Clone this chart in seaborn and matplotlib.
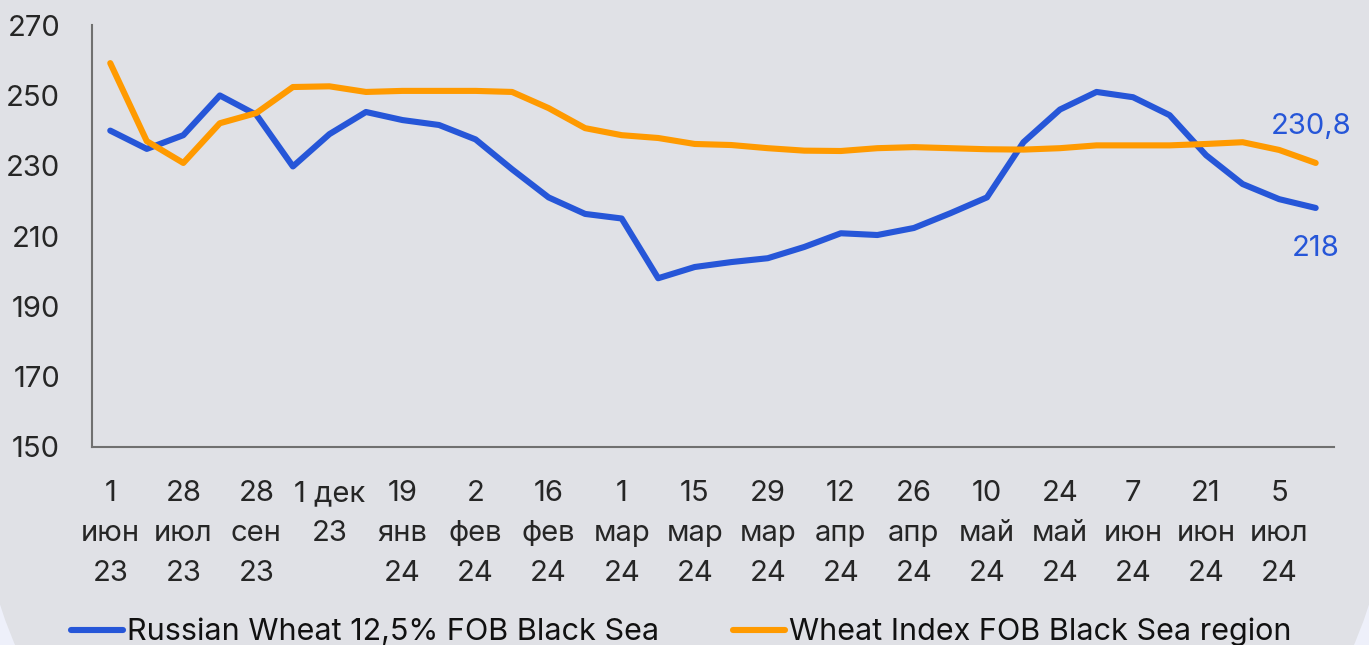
import matplotlib.pyplot as plt
import numpy as np
import pandas as pd
import seaborn as sns
from matplotlib.patches import FancyBboxPatch

# weekly observations, a tick label on every second one
date_labels = [
    "1\nиюн\n23", "28\nиюл\n23", "28\nсен\n23", "1 дек\n23", "19\nянв\n24",
    "2\nфев\n24", "16\nфев\n24", "1\nмар\n24", "15\nмар\n24", "29\nмар\n24",
    "12\nапр\n24", "26\nапр\n24", "10\nмай\n24", "24\nмай\n24", "7\nиюн\n24",
    "21\nиюн\n24", "5\nиюл\n24",
]
russian_wheat = [
    240.0, 234.8, 238.7, 250.0, 244.5, 229.8, 239.0, 245.3, 243.0, 241.6,
    237.5, 229.0, 221.0, 216.3, 215.0, 198.0, 201.2, 202.6, 203.7, 206.9,
    210.8, 210.3, 212.3, 216.5, 221.0, 236.7, 246.0, 251.0, 249.5, 244.4,
    233.0, 224.8, 220.5, 218.0,
]
wheat_index = [
    259.2, 237.0, 230.8, 242.1, 245.0, 252.4, 252.6, 251.0, 251.3, 251.3,
    251.3, 251.0, 246.4, 240.7, 238.7, 237.9, 236.2, 235.9, 235.0, 234.3,
    234.2, 235.0, 235.3, 235.0, 234.7, 234.6, 235.0, 235.8, 235.8, 235.8,
    236.2, 236.7, 234.5, 230.8,
]
series_names = ["Russian Wheat 12,5% FOB Black Sea", "Wheat Index FOB Black Sea region"]
colors = ["#2656d8", "#ff9a00"]

n = len(russian_wheat)
df = pd.DataFrame({
    "week": list(range(n)) * 2,
    "price": russian_wheat + wheat_index,
    "series": [series_names[0]] * n + [series_names[1]] * n,
})

sns.set_style("white")
plt.rcParams["font.family"] = ["Inter", "DejaVu Sans"]
plt.rcParams["text.color"] = "#111111"

bg = "#e0e1e6"
fig = plt.figure(figsize=(13.69, 6.45), dpi=100, facecolor="#eef0fa")
# rounded grey card behind the chart
fig.patches.append(FancyBboxPatch(
    (-0.30, -2.45), 14.29, 12.0, boxstyle="round,pad=0,rounding_size=5.0",
    transform=fig.dpi_scale_trans, facecolor=bg, edgecolor="none", zorder=-5))

ax = fig.add_axes([0.0672, 0.307, 0.9072, 0.654])
ax.set_facecolor("none")

sns.lineplot(data=df, x="week", y="price", hue="series", palette=colors,
             linewidth=4.4, ax=ax, legend=False)
for ln in ax.get_lines():
    ln.set_solid_capstyle("round")
    ln.set_solid_joinstyle("round")

ax.set_xlim(-0.5, n - 0.5)
ax.set_ylim(150, 270)
ax.set_yticks(np.arange(150, 271, 20))
ax.set_xticks(np.arange(0, n, 2))
ax.set_xticklabels(date_labels, linespacing=1.6)
ax.set_xticks(np.arange(-0.5, n, 1), minor=True)
ax.set_xlabel("")
ax.set_ylabel("")

ax.tick_params(axis="x", which="major", length=0, pad=24, labelsize=21)
ax.tick_params(axis="x", which="minor", length=7.2, width=1.2, color="#707070", direction="out")
ax.tick_params(axis="y", length=0, pad=23, labelsize=21)

for side in ["top", "right"]:
    ax.spines[side].set_visible(False)
for side in ["left", "bottom"]:
    ax.spines[side].set_color("#707070")
    ax.spines[side].set_linewidth(1.5)

ax.annotate("230,8", xy=(n - 1, wheat_index[-1]), xytext=(-3, 26),
            textcoords="offset points", ha="center", va="center",
            fontsize=21, color=colors[0])
ax.annotate(f"{russian_wheat[-1]:.0f}", xy=(n - 1, russian_wheat[-1]), xytext=(0, -29.5),
            textcoords="offset points", ha="center", va="center",
            fontsize=21, color=colors[0])

handles = [plt.Line2D([], [], color=c, linewidth=4.4, solid_capstyle="round") for c in colors]
fig.legend(handles, series_names, loc="center", bbox_to_anchor=(0.4975, 0.02), ncol=2,
           frameon=False, fontsize=22, handlelength=1.7, handletextpad=0.15,
           columnspacing=2.4)

fig.savefig("out.png", dpi=100, facecolor=fig.get_facecolor())
